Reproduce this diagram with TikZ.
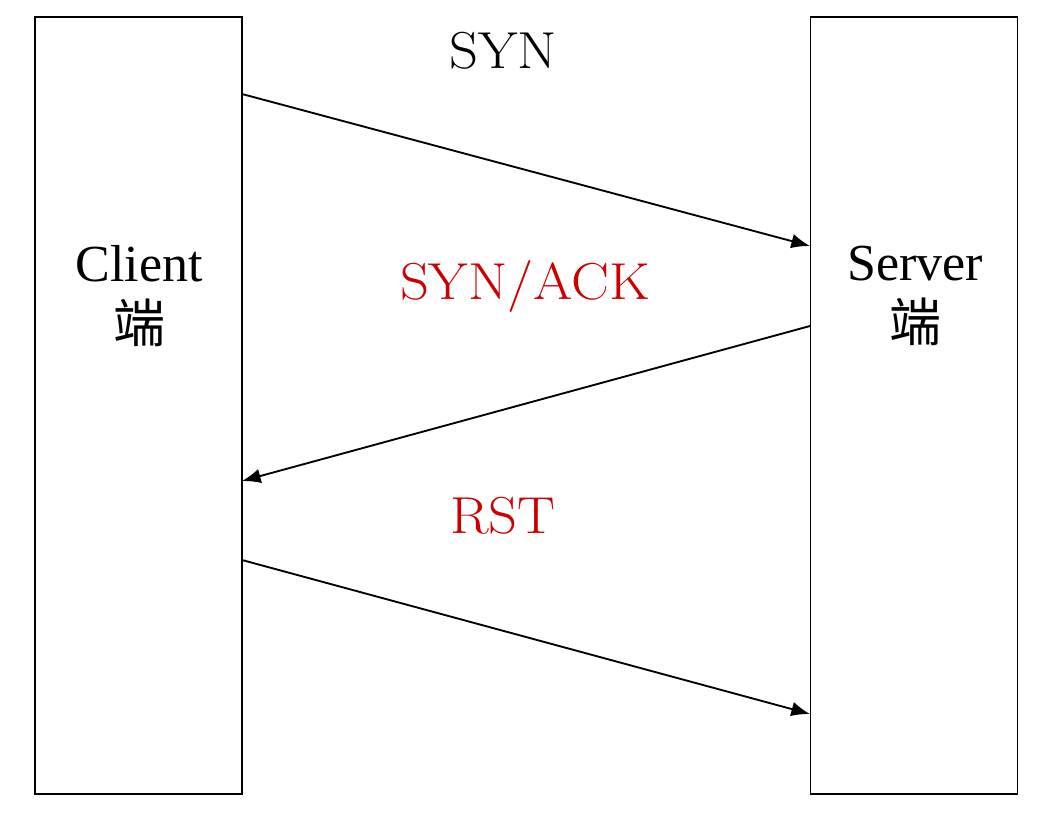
\documentclass[tikz,border=0pt]{standalone}
\usepackage{fontspec}
\newfontfamily\timesf{Liberation Serif}
\newfontfamily\cjk{Noto Sans CJK SC}
\newfontfamily\labelf{Latin Modern Roman}[FakeStretch=1.09]
\usetikzlibrary{arrows.meta}
\definecolor{msgred}{RGB}{204,0,0}
\begin{document}
\begin{tikzpicture}[x=0.75pt,y=-0.75pt,
  hostbox/.style={draw,line width=1.4pt,minimum width=207*0.75pt,minimum height=777*0.75pt,inner sep=0pt},
  hostlabel/.style={align=center,font=\timesf\fontsize{39}{46}\selectfont,inner sep=0pt},
  msg/.style={font=\labelf\fontsize{39}{46}\selectfont,anchor=base,inner sep=0pt},
  flow/.style={line width=1.4pt,-{Latex[length=14pt,width=11pt]}}]
\useasboundingbox (0,0) rectangle (1045,832);
\node[hostbox] (client) at (138.5,405.5) {};
\node[hostbox] (server) at (914,405.5) {};
\node[hostlabel] (clientlbl) at (139,296) {Client\\{\cjk 端}};
\node[hostlabel] (serverlbl) at (915,296) {Server\\{\cjk 端}};
\coordinate (c1) at (242,94);
\coordinate (s1) at (810,246);
\coordinate (s2) at (810,326);
\coordinate (c2) at (242,481);
\coordinate (c3) at (242,560);
\coordinate (s3) at (810,714);
\draw[flow] (c1) -- (s1);
\draw[flow] (s2) -- (c2);
\draw[flow] (c3) -- (s3);
\node[msg] (syn) at (503,68) {SYN};
\node[msg,text=msgred] (synack) at (525,299) {SYN/ACK};
\node[msg,text=msgred] (rst) at (503,533) {RST};
\end{tikzpicture}
\end{document}
